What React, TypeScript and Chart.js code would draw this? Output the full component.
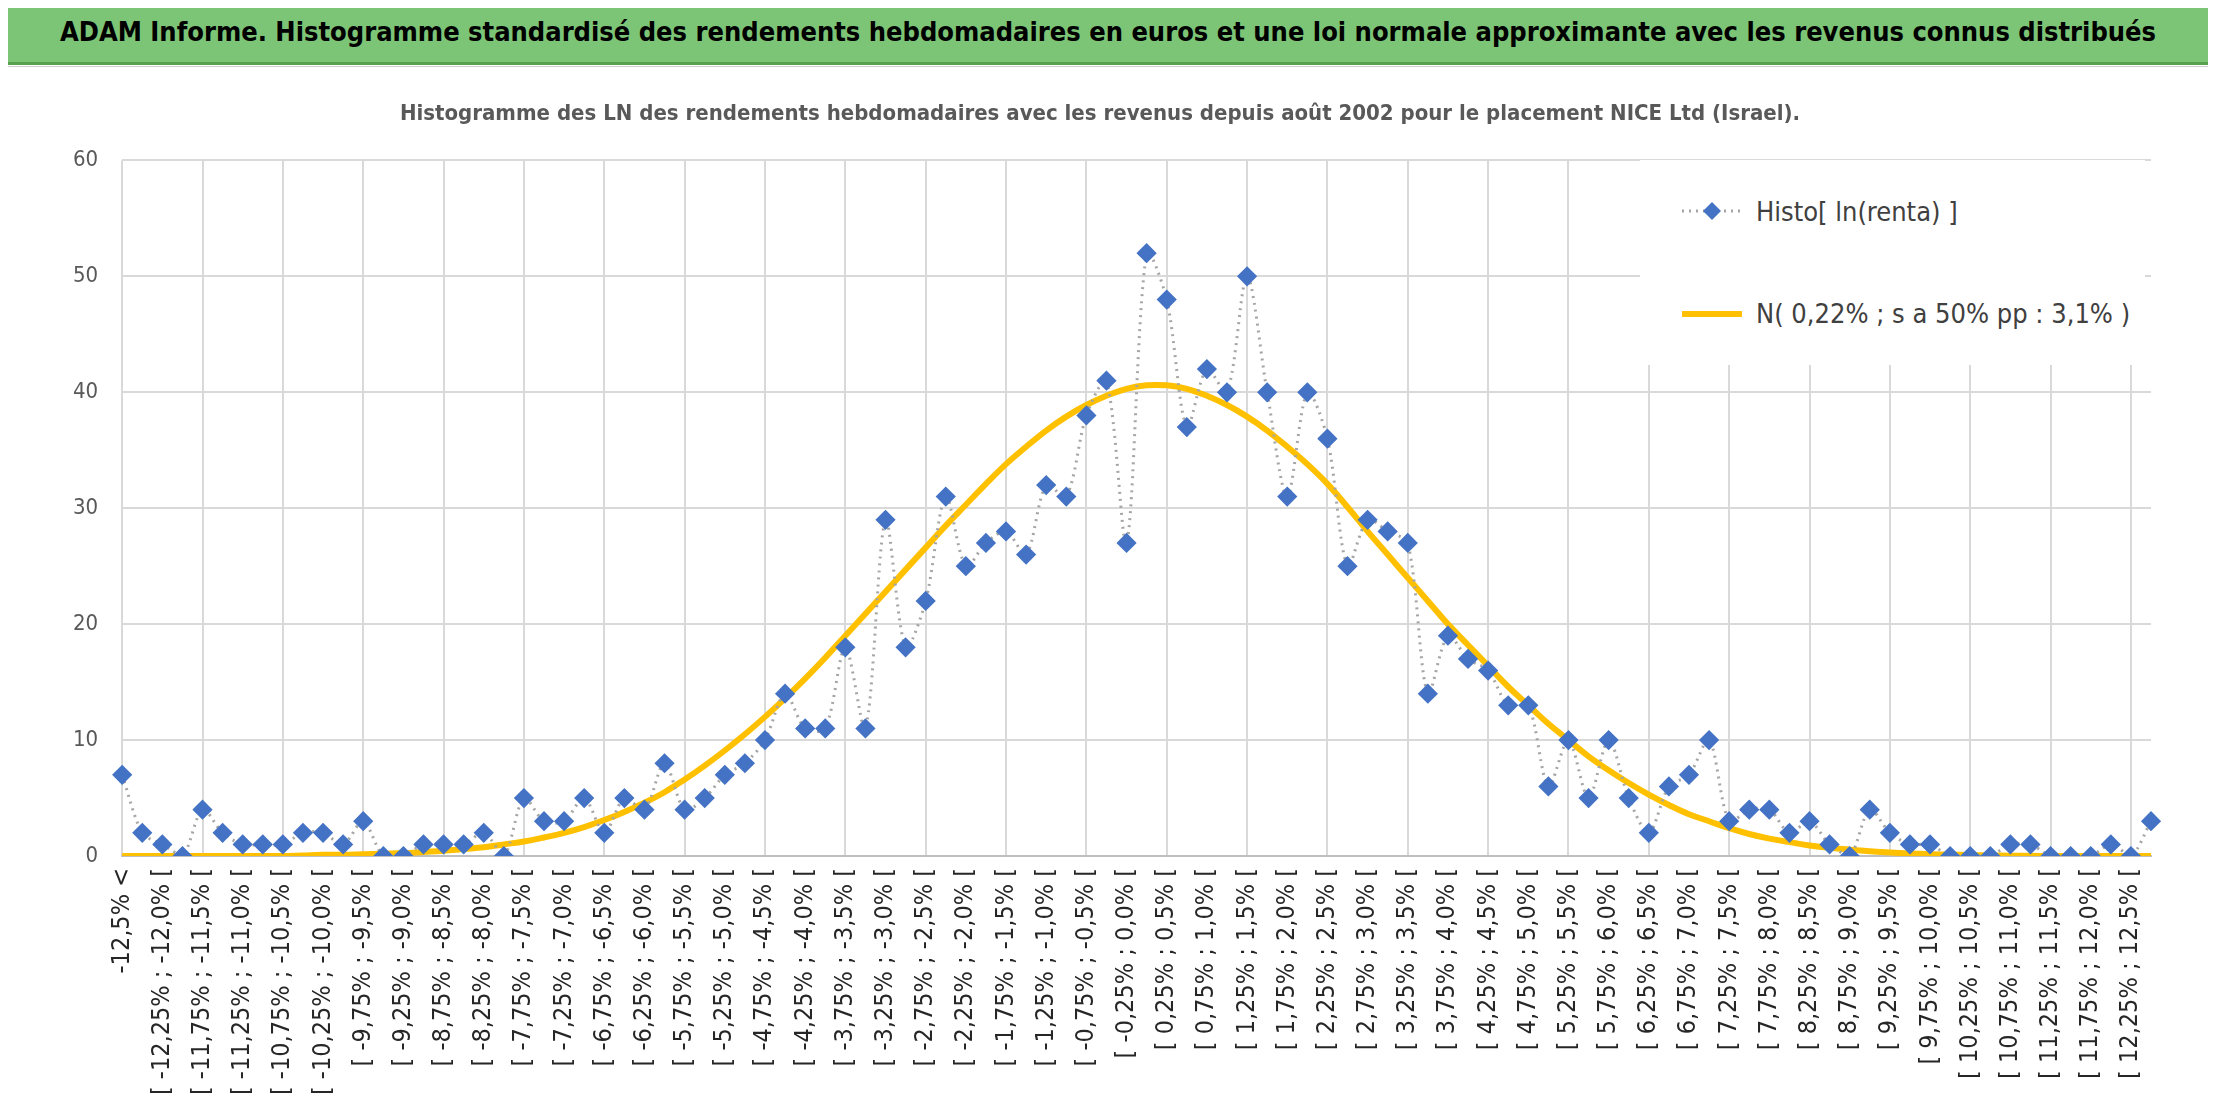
import React, { useEffect, useRef } from 'react';
import { Chart, registerables } from 'chart.js';

Chart.register(...registerables);

const pct = (v: number) => v.toFixed(2).replace(/0$/, '').replace('.', ',').replace(/,$/, ',0') + '%';

// category labels: 0,25% wide bins, with open ends
const binStarts: number[] = [];
for (let k = 0; k < 100; k++) binStarts.push(-12.5 + 0.25 * k);
const categories: string[] = [
  '-12,5% <',
  ...binStarts.map(s => `[ ${pct(s)} ; ${pct(s + 0.25)} [`),
  '12,5% <',
];

const histoValues = [
  7, 2, 1, 0, 4, 2, 1, 1, 1, 2, 2, 1, 3, 0, 0, 1, 1, 1, 2, 0,
  5, 3, 3, 5, 2, 5, 4, 8, 4, 5, 7, 8, 10, 14, 11, 11, 18, 11, 29, 18,
  22, 31, 25, 27, 28, 26, 32, 31, 38, 41, 27, 52, 48, 37, 42, 40, 50, 40, 31, 40,
  36, 25, 29, 28, 27, 14, 19, 17, 16, 13, 13, 6, 10, 5, 10, 5, 2, 6, 7, 10,
  3, 4, 4, 2, 3, 1, 0, 4, 2, 1, 1, 0, 0, 0, 1, 1, 0, 0, 0, 1,
  0, 3,
];

const normalValues = [
  0, 0, 0, 0, 0, 0, 0, 0, 0, 0.05, 0.1,
  0.1, 0.15, 0.2, 0.25, 0.35,
  0.45, 0.6, 0.75, 1.0, 1.25,
  1.6, 2.0, 2.5, 3.1, 3.8,
  4.6, 5.5, 6.6, 7.8, 9.1,
  10.5, 12.0, 13.6, 15.3, 17.1,
  19.0, 20.9, 22.8, 24.7, 26.6,
  28.5, 30.3, 32.1, 33.8, 35.3,
  36.7, 37.9, 38.9, 39.7, 40.3,
  40.6, 40.6, 40.3, 39.7, 38.9,
  37.9, 36.7, 35.3, 33.8, 32.1,
  30.1, 28.0, 26.0, 24.0, 22.0,
  20.0, 18.2, 16.4, 14.6, 13.0,
  11.4, 10.0, 8.6, 7.4, 6.3,
  5.3, 4.4, 3.6, 3.0, 2.4,
  1.9, 1.5, 1.2, 0.9, 0.7,
  0.55, 0.4, 0.3, 0.22, 0.16,
  0.12, 0.08, 0.05, 0.03, 0.02,
  0, 0, 0, 0, 0, 0,
];

const yTicks = [0, 10, 20, 30, 40, 50, 60];

const FONT = '"DejaVu Sans Condensed", "Liberation Sans Narrow", sans-serif';

const App: React.FC = () => {
  const canvasRef = useRef<HTMLCanvasElement>(null);

  useEffect(() => {
    if (!canvasRef.current) return;
    const chart = new Chart(canvasRef.current, {
      type: 'line',
      data: {
        labels: categories,
        datasets: [
          {
            label: 'Histo[ ln(renta) ]',
            data: histoValues,
            borderColor: '#a5a5a5',
            borderWidth: 3,
            borderDash: [2, 5],
            pointStyle: 'rectRot',
            pointRadius: 8,
            pointBackgroundColor: '#4472c4',
            pointBorderColor: '#4472c4',
            tension: 0.3,
            order: 1,
          },
          {
            label: 'N( 0,22% ; s a 50% pp : 3,1% )',
            data: normalValues,
            borderColor: '#ffc000',
            borderWidth: 6,
            pointRadius: 0,
            tension: 0.4,
            order: 2,
          },
        ],
      },
      options: {
        responsive: true,
        maintainAspectRatio: false,
        animation: false,
        layout: { padding: { left: 44, right: 60, bottom: 4 } },
        plugins: {
          legend: { display: false },
          tooltip: { enabled: false },
          title: {
            display: true,
            text: 'Histogramme des LN des rendements hebdomadaires avec les revenus depuis août 2002 pour le placement NICE Ltd (Israel).',
            color: '#595959',
            font: { size: 22, weight: 'bold', family: FONT },
            padding: { top: 34, bottom: 33 },
          },
        },
        scales: {
          x: {
            offset: false,
            grid: {
              color: (ctx: any) => (ctx.index % 4 === 0 ? '#d9d9d9' : 'rgba(0,0,0,0)'),
              lineWidth: 2,
              drawTicks: false,
            },
            border: { color: '#bfbfbf', width: 2 },
            ticks: {
              autoSkip: false,
              maxRotation: 90,
              minRotation: 90,
              padding: 12,
              color: '#262626',
              font: { size: 25, family: FONT },
              callback: (_v: any, i: number) => (i % 2 === 0 ? categories[i] : ''),
            },
            afterFit: (axis: any) => {
              axis.height = 240;
            },
          },
          y: {
            min: 0,
            max: 60,
            afterBuildTicks: (axis: any) => {
              axis.ticks = yTicks.map(v => ({ value: v }));
            },
            grid: { color: '#d9d9d9', lineWidth: 2, drawTicks: false },
            border: { display: false },
            ticks: { color: '#595959', padding: 24, font: { size: 22, family: FONT } },
          },
        },
      },
    });
    return () => chart.destroy();
  }, []);

  const legendText: React.CSSProperties = {
    fontFamily: FONT,
    fontSize: 27,
    color: '#404040',
    marginLeft: 14,
    whiteSpace: 'nowrap',
  };

  return (
    <div style={{ position: 'relative', width: 2216, height: 1103, background: '#ffffff', overflow: 'hidden', margin: -8 }}>
      <div
        style={{
          position: 'absolute', left: 0, top: 0, width: 2216, height: 62,
          background: '#7cc576', borderBottom: '3px solid #5aa14f',
          fontFamily: FONT, fontWeight: 'bold', fontSize: 27, color: '#000',
          display: 'flex', alignItems: 'center', justifyContent: 'center', whiteSpace: 'nowrap',
        }}
      >
        ADAM Informe. Histogramme standardisé des rendements hebdomadaires en euros et une loi normale approximante avec les revenus connus distribués
      </div>
      <div style={{ position: 'absolute', left: 4, top: 62, width: 4, height: 40, background: '#ffc000' }} />
      <div style={{ position: 'absolute', right: 4, top: 62, width: 4, height: 40, background: '#ffc000' }} />
      <div style={{ position: 'absolute', left: 4, top: 66, width: 2206, height: 1033, border: '1px solid #d0d0d0' }}>
        <canvas ref={canvasRef} />
      </div>
      <div
        style={{
          position: 'absolute', left: 1640, top: 160, width: 505, height: 205,
          background: '#ffffff', display: 'flex', flexDirection: 'column', justifyContent: 'space-around',
          paddingLeft: 42, boxSizing: 'border-box',
        }}
      >
        <div style={{ display: 'flex', alignItems: 'center' }}>
          <svg width="60" height="20">
            <line x1="0" y1="10" x2="60" y2="10" stroke="#a5a5a5" strokeWidth="3" strokeDasharray="2 5" />
            <polygon points="30,1 39,10 30,19 21,10" fill="#4472c4" />
          </svg>
          <span style={legendText}>Histo[ ln(renta) ]</span>
        </div>
        <div style={{ display: 'flex', alignItems: 'center' }}>
          <svg width="60" height="20">
            <line x1="0" y1="10" x2="60" y2="10" stroke="#ffc000" strokeWidth="6" />
          </svg>
          <span style={legendText}>N( 0,22% ; s a 50% pp : 3,1% )</span>
        </div>
      </div>
    </div>
  );
};

export default App;
